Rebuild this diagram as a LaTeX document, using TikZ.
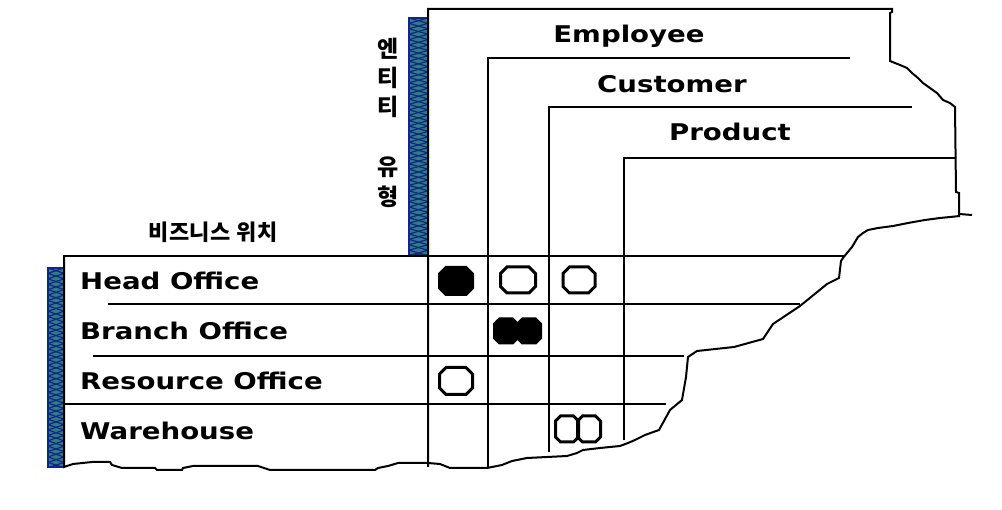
\documentclass[tikz,border=0pt]{standalone}
\usepackage{fontspec}
\newfontfamily\lblfont{DejaVu Sans}[FakeStretch=1.2]
\newfontfamily\krfont{Noto Sans CJK KR}[LetterSpace=3]
\newfontfamily\krvfont{Noto Sans CJK KR}
\definecolor{barteal}{RGB}{46,128,126}
\definecolor{barnavy}{RGB}{20,36,140}
\tikzset{
  ln/.style={line width=2pt, black},
  lbl/.style={font=\lblfont\bfseries\fontsize{23}{28}\selectfont, inner sep=0pt},
  krlbl/.style={font=\krfont\bfseries\fontsize{22}{24}\selectfont, inner sep=0pt},
  krv/.style={font=\krvfont\bfseries\fontsize{23}{24}\selectfont, inner sep=0pt},
  fullmark/.style={draw=black, line width=3pt, fill=black},
  openmark/.style={draw=black, line width=3pt},
  zig/.style={barnavy, line width=1.2pt},
  pics/oct/.style n args={3}{code={
    \path[pic actions] (-#1+#3,-#2) -- (#1-#3,-#2) -- (#1,-#2+#3) -- (#1,#2-#3)
      -- (#1-#3,#2) -- (-#1+#3,#2) -- (-#1,#2-#3) -- (-#1,-#2+#3) -- cycle;}},
}
\begin{document}
\begin{tikzpicture}[x=1pt,y=-1pt]
\useasboundingbox (0,0) rectangle (1002,510);
\fill[white] (0,0) rectangle (1002,510);

% top patterned bar
\begin{scope}
  \clip (409,18) rectangle (428,255);
  \fill[barteal] (409,18) rectangle (428,255);
  \foreach \k in {0,...,22}{
    \draw[zig] (409,{18+\k*10.8}) -- (428,{23.4+\k*10.8}) -- (409,{28.8+\k*10.8});
    \draw[zig] (428,{18+\k*10.8}) -- (409,{23.4+\k*10.8}) -- (428,{28.8+\k*10.8});
  }
\end{scope}
\draw[barnavy, line width=2pt] (409,18) rectangle (428,255);

% left patterned bar
\begin{scope}
  \clip (48,268) rectangle (64,467);
  \fill[barteal] (48,268) rectangle (64,467);
  \foreach \k in {0,...,19}{
    \draw[zig] (48,{268+\k*10.8}) -- (64,{273.4+\k*10.8}) -- (48,{278.8+\k*10.8});
    \draw[zig] (64,{268+\k*10.8}) -- (48,{273.4+\k*10.8}) -- (64,{278.8+\k*10.8});
  }
\end{scope}
\draw[barnavy, line width=2pt] (48,268) rectangle (64,467);

% top box outline and torn right edge
\draw[ln] (428,467) -- (428,9) -- (892,9) -- (892,12) -- (890,13) -- (890,61)
  -- (900,65) -- (907,68) -- (912,73) -- (918,78) -- (923,83) -- (930,88)
  -- (937,93) -- (943,100) -- (950,103) -- (955,107) -- (956,192) -- (959,193)
  -- (959,214) -- (972,215);

% torn edge, right and bottom, then left box
\draw[ln] (960,216) -- (940,218) -- (925,220) -- (908,223) -- (893,226) -- (878,228)
  -- (868,230) -- (863,233) -- (858,237) -- (855,242) -- (852,247) -- (847,253)
  -- (843,258) -- (841,261) -- (839,278) -- (827,284) -- (800,306) -- (788,314)
  -- (773,324) -- (763,339) -- (734,347) -- (697,351) -- (688,357) -- (686,377)
  -- (682,400) -- (670,410) -- (659,430) -- (645,435) -- (635,440) -- (628,443)
  -- (620,446) -- (600,448) -- (583,450) -- (577,453) -- (567,456) -- (527,458)
  -- (512,461) -- (502,465) -- (487,468) -- (450,468) -- (440,464) -- (428,463)
  -- (398,463) -- (388,466) -- (378,468) -- (375,470) -- (270,470) -- (258,466)
  -- (193,466) -- (183,468) -- (182,470) -- (157,470) -- (155,468) -- (122,468)
  -- (112,465) -- (110,462) -- (92,462) -- (73,464) -- (64,467) -- (64,256);

% header lines
\draw[ln] (488,468) -- (488,58) -- (850,58);
\draw[ln] (549,452) -- (549,107) -- (912,107);
\draw[ln] (624,440) -- (624,158) -- (956,158);

% row lines
\draw[ln] (63,256) -- (845,256);
\draw[ln] (108,304) -- (800,304);
\draw[ln] (93,356) -- (684,356);
\draw[ln] (64,404) -- (666,404);

% header texts
\node[lbl, anchor=base] (emp) at (629,43) {Employee};
\node[lbl, anchor=base] (cus) at (672,93) {Customer};
\node[lbl, anchor=base] (prd) at (730,141) {Product};

% row texts
\node[lbl, anchor=base west] (ho) at (80,290) {Head Office};
\node[lbl, anchor=base west] (bo) at (80,340) {Branch Office};
\node[lbl, anchor=base west] (ro) at (80,390) {Resource Office};
\node[lbl, anchor=base west] (wh) at (80,440) {Warehouse};

% korean labels
\node[krlbl] (loc) at (213,232) {비즈니스 위치};
\node[krv] (v1) at (388,49) {엔};
\node[krv] (v2) at (388,78) {티};
\node[krv] (v3) at (388,107) {티};
\node[krv] (v4) at (388,167) {유};
\node[krv] (v5) at (388,197) {형};

% marks
\pic[fullmark] (m1) at (456,281) {oct={16.5}{13.5}{6.5}};
\pic[openmark] (m2) at (518,280) {oct={17.5}{13}{6.5}};
\pic[openmark] (m3) at (579,280) {oct={16}{13}{6.5}};
\pic[fullmark] (m4) at (506,331) {oct={11.5}{12}{5}};
\pic[fullmark] (m5) at (529,331) {oct={11.5}{12}{5}};
\pic[openmark] (m6) at (456,381) {oct={16.5}{13.5}{6.5}};
\pic[openmark] (m7) at (567,429) {oct={11.5}{13}{5}};
\pic[openmark] (m8) at (589,429) {oct={11.5}{13}{5}};
\end{tikzpicture}
\end{document}
